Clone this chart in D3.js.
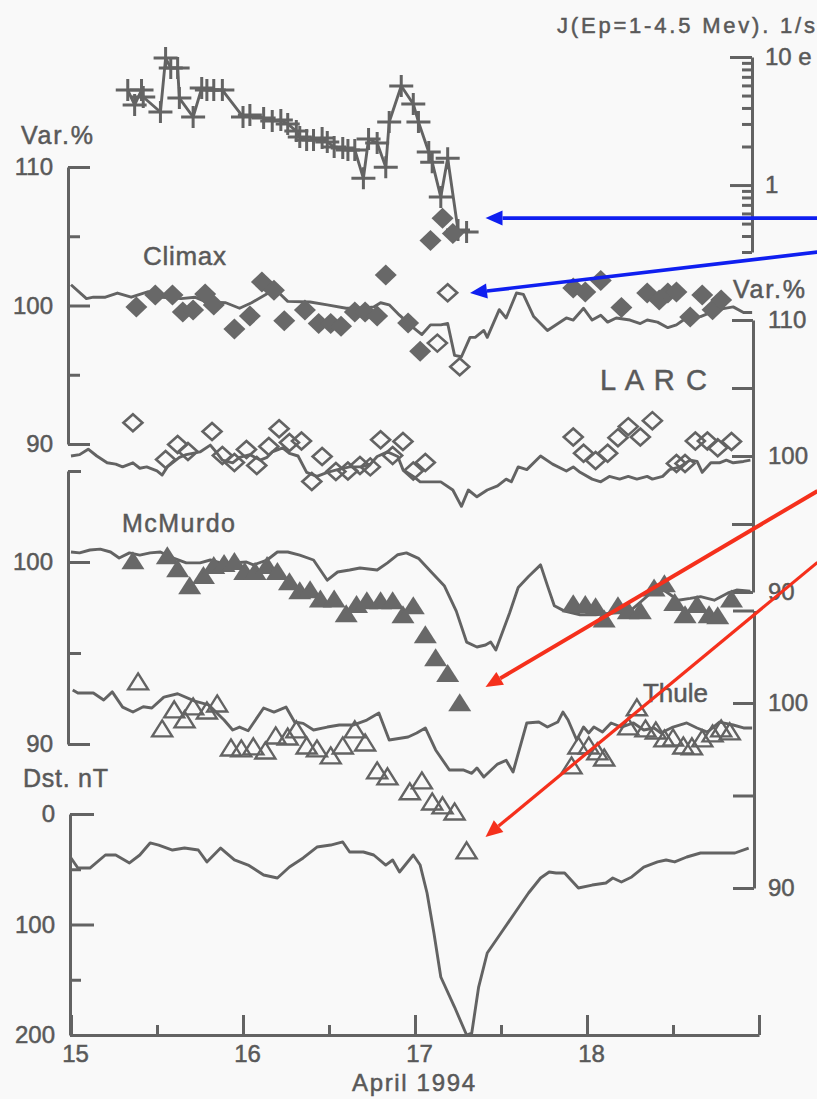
<!DOCTYPE html>
<html><head><meta charset="utf-8">
<script src="https://cdn.jsdelivr.net/npm/d3@7"></script>
<style>
body{margin:0;background:#f9f9f9}
svg{display:block}
text{font-family:"Liberation Sans",Arial,sans-serif;fill:#595959;stroke:#595959;stroke-width:0.5px}
</style>
</head><body>
<svg id="c" width="817" height="1099"></svg>
<script>
// ---------- DATA ----------
const dayTicks = [15,16,17,18,19];
const halfDayTicks = [15.5,16.5,17.5,18.5];
const jMajor = [1,10];
const jMinor = [0.3,0.4,0.5,0.6,0.7,0.8,0.9,2,3,4,5,6,7,8,9];
const climaxMajor = [90,100,110], climaxMinor = [95,105];
const larcMajor = [90,100,110], larcMinor = [95,105];
const mcmMajor = [90,100], mcmMinor = [95,105];
const thuleMajor = [90,100], thuleMinor = [95,105];
const dstMajor = [0,100,200], dstMinor = [50,150];

// proton flux J (Ep=1-4.5 MeV), [day, flux]
const jFlux = [[15.33,5.52],[15.37,4.22],[15.41,5.52],[15.42,4.87],[15.52,3.72],[15.55,9.8],[15.58,8.2],[15.62,8.2],[15.63,4.78],[15.71,3.40],[15.76,5.72],[15.79,5.52],[15.83,5.52],[15.88,5.52],[16.00,3.40],[16.04,3.52],[16.12,3.34],[16.17,3.16],[16.22,3.22],[16.26,3.0],[16.31,2.64],[16.33,2.37],[16.37,2.25],[16.41,2.25],[16.46,2.33],[16.49,2.17],[16.53,1.98],[16.58,1.95],[16.61,1.88],[16.65,1.88],[16.70,1.13],[16.73,2.29],[16.78,2.13],[16.83,1.38],[16.85,3.11],[16.92,5.94],[16.99,4.3],[17.02,3.11],[17.08,1.81],[17.10,1.51],[17.15,0.806],[17.19,1.62],[17.25,0.445],[17.30,0.429]];

// Climax neutron monitor, Var.%
const climaxLine = [[15.00,101.5],[15.09,100.5],[15.13,100.6],[15.20,100.6],[15.27,100.9],[15.35,100.6],[15.45,101.0],[15.53,100.6],[15.64,100.5],[15.72,100.6],[15.79,100.25],[15.90,100.2],[15.98,99.8],[16.05,100.2],[16.16,101.0],[16.21,100.9],[16.26,100.3],[16.39,100.25],[16.49,100.05],[16.60,99.8],[16.70,99.8],[16.76,99.9],[16.80,100.2],[16.85,100.05],[16.91,99.3],[16.99,98.4],[17.04,97.9],[17.09,98.6],[17.15,98.6],[17.19,98.7],[17.23,96.4],[17.27,96.3],[17.32,97.7],[17.35,97.7],[17.40,98.2],[17.42,97.7],[17.49,99.7],[17.53,99.1],[17.59,100.9],[17.63,100.8],[17.69,99.2],[17.77,98.2],[17.88,99.1],[17.92,98.95],[17.98,99.8],[18.03,98.95],[18.08,99.3],[18.12,98.8],[18.17,99.1],[18.25,98.95],[18.31,98.7],[18.35,98.95],[18.41,98.8],[18.47,98.4],[18.52,98.6],[18.56,98.95],[18.66,99.2],[18.76,99.7],[18.85,99.9],[18.91,99.5],[18.96,99.5]];
const climaxPoints = [[15.38,99.9],[15.49,100.76],[15.59,100.76],[15.65,99.53],[15.71,99.68],[15.78,100.83],[15.83,100.04],[15.95,98.3],[16.04,99.24],[16.11,101.7],[16.18,101.1],[16.24,98.9],[16.36,99.68],[16.44,98.7],[16.51,98.7],[16.57,98.5],[16.65,99.53],[16.71,99.53],[16.78,99.24],[16.83,102.2],[16.96,98.74],[17.03,96.7],[17.09,104.7],[17.16,106.3],[17.22,105.2],[17.92,101.26],[17.99,100.97],[18.08,101.8],[18.20,99.85],[18.35,100.9],[18.42,100.4],[18.47,100.9],[18.52,100.97],[18.60,99.17],[18.67,100.76],[18.73,99.7],[18.78,100.4]];

// LARC, Var.%
const larcLine = [[15.00,100.0],[15.05,100.1],[15.10,100.5],[15.15,100.0],[15.21,99.5],[15.26,99.4],[15.30,99.2],[15.36,99.5],[15.40,99.1],[15.44,99.2],[15.50,98.9],[15.53,98.6],[15.56,99.2],[15.63,99.9],[15.67,100.1],[15.75,100.3],[15.81,100.8],[15.85,100.2],[15.88,99.7],[15.94,99.5],[15.98,99.9],[16.04,100.1],[16.10,99.7],[16.14,99.9],[16.17,100.3],[16.23,100.6],[16.27,100.2],[16.32,100.0],[16.37,98.8],[16.43,98.5],[16.49,98.8],[16.55,99.0],[16.62,99.2],[16.69,99.2],[16.74,99.4],[16.78,99.96],[16.84,100.3],[16.90,99.96],[16.93,99.0],[16.99,98.5],[17.03,98.1],[17.15,98.1],[17.22,97.5],[17.27,96.3],[17.31,97.5],[17.36,97.0],[17.42,97.5],[17.48,97.8],[17.53,98.3],[17.56,98.1],[17.60,99.2],[17.65,99.0],[17.73,100.0],[17.80,99.4],[17.88,98.9],[17.92,99.2],[17.96,98.8],[18.03,98.3],[18.08,98.1],[18.13,98.5],[18.19,98.3],[18.24,98.5],[18.29,98.3],[18.35,98.5],[18.38,98.3],[18.44,98.5],[18.48,99.0],[18.54,99.2],[18.60,99.7],[18.64,99.6],[18.67,98.8],[18.72,99.5],[18.77,99.5],[18.81,99.7],[18.85,99.5],[18.91,99.6],[18.95,99.7]];
const larcPoints = [[15.36,102.45],[15.55,99.74],[15.62,100.84],[15.68,100.33],[15.82,101.8],[15.88,100.04],[15.95,99.52],[16.02,100.48],[16.08,99.3],[16.15,100.7],[16.21,102.0],[16.27,100.99],[16.34,101.1],[16.40,98.13],[16.46,99.96],[16.54,98.86],[16.61,98.9],[16.68,99.3],[16.74,99.2],[16.80,101.2],[16.87,100.04],[16.93,101.06],[16.99,98.9],[17.06,99.52],[17.13,108.3],[17.19,112.0],[17.26,106.56],[17.92,101.4],[17.98,100.2],[18.05,99.67],[18.12,100.2],[18.18,101.35],[18.24,102.16],[18.31,101.4],[18.38,102.6],[18.52,99.45],[18.57,99.45],[18.63,101.1],[18.70,101.1],[18.76,100.6],[18.84,101.06]];

// McMurdo, Var.%
const mcmLine = [[15.00,100.55],[15.05,100.5],[15.11,100.66],[15.17,100.71],[15.23,100.55],[15.28,100.22],[15.34,100.5],[15.40,100.38],[15.46,100.5],[15.52,100.55],[15.58,100.27],[15.67,99.95],[15.75,99.95],[15.81,100.11],[15.87,99.95],[15.94,99.95],[16.02,100.0],[16.06,99.84],[16.14,100.11],[16.20,100.55],[16.26,100.55],[16.33,100.38],[16.41,100.11],[16.49,99.0],[16.55,99.45],[16.62,99.56],[16.68,99.67],[16.78,99.56],[16.84,99.95],[16.90,100.4],[16.95,100.5],[17.02,100.2],[17.10,99.4],[17.17,98.7],[17.24,97.3],[17.30,95.6],[17.36,95.33],[17.41,95.44],[17.44,95.6],[17.47,95.16],[17.55,97.2],[17.60,98.6],[17.66,99.2],[17.73,99.84],[17.77,98.7],[17.81,97.6],[17.87,97.3],[17.96,97.1],[18.05,97.1],[18.15,97.2],[18.25,97.3],[18.36,98.2],[18.44,98.5],[18.53,97.9],[18.60,98.0],[18.66,98.1],[18.74,97.9],[18.82,98.3],[18.87,98.46],[18.95,98.4]];
const mcmPoints = [[15.36,100.0],[15.56,100.27],[15.62,99.56],[15.69,98.63],[15.77,99.18],[15.83,99.73],[15.89,99.84],[15.95,99.95],[16.01,99.4],[16.07,99.4],[16.14,99.73],[16.20,99.4],[16.27,98.85],[16.33,98.35],[16.39,98.4],[16.45,97.9],[16.53,97.9],[16.60,97.09],[16.66,97.6],[16.72,97.8],[16.80,97.8],[16.87,97.8],[16.93,97.03],[16.99,97.53],[17.06,95.93],[17.12,94.67],[17.19,93.8],[17.26,92.2],[17.92,97.64],[17.99,97.6],[18.05,97.47],[18.10,96.8],[18.18,97.53],[18.24,97.25],[18.31,97.25],[18.39,98.5],[18.45,98.74],[18.51,97.7],[18.57,97.03],[18.64,97.6],[18.71,97.03],[18.76,96.98],[18.84,97.9]];

// Thule, Var.%
const thuleLine = [[15.01,100.7],[15.04,100.54],[15.09,100.54],[15.13,100.54],[15.19,100.16],[15.24,100.6],[15.30,99.78],[15.36,99.51],[15.42,99.8],[15.47,99.73],[15.54,100.32],[15.62,100.5],[15.72,100.1],[15.80,99.9],[15.89,99.08],[15.94,98.54],[15.98,98.7],[16.03,98.5],[16.12,99.73],[16.18,99.51],[16.25,99.78],[16.30,98.97],[16.35,98.9],[16.41,98.54],[16.49,98.7],[16.56,98.81],[16.64,98.81],[16.72,99.08],[16.79,99.46],[16.85,98.0],[16.96,98.16],[17.01,98.38],[17.06,98.65],[17.12,97.46],[17.20,96.38],[17.28,96.38],[17.33,96.2],[17.36,96.49],[17.40,96.0],[17.48,96.7],[17.53,96.9],[17.57,96.27],[17.65,98.92],[17.72,98.97],[17.77,98.7],[17.83,98.97],[17.86,99.51],[17.89,99.08],[17.94,98.0],[17.98,98.7],[18.01,98.38],[18.04,98.7],[18.09,98.43],[18.14,98.92],[18.20,98.7],[18.27,98.92],[18.33,98.54],[18.39,98.65],[18.43,98.38],[18.50,98.7],[18.58,98.92],[18.64,98.65],[18.70,98.43],[18.77,98.97],[18.85,98.81],[18.91,98.65],[18.96,98.65]];
const thulePoints = [[15.39,101.08],[15.53,98.54],[15.60,99.57],[15.66,99.03],[15.71,99.73],[15.79,99.51],[15.85,99.89],[15.93,97.51],[15.99,97.46],[16.06,97.57],[16.13,97.35],[16.19,98.16],[16.26,98.1],[16.31,98.49],[16.37,97.62],[16.43,97.46],[16.51,97.08],[16.58,97.62],[16.65,98.49],[16.71,97.78],[16.78,96.27],[16.84,95.95],[16.97,95.14],[17.04,95.73],[17.10,94.59],[17.16,94.38],[17.23,94.05],[17.30,91.95],[17.91,96.54],[17.95,97.62],[18.01,97.62],[18.06,97.3],[18.10,96.97],[18.24,98.65],[18.29,99.68],[18.34,98.54],[18.40,98.43],[18.45,98.0],[18.50,98.05],[18.56,97.62],[18.61,97.57],[18.67,98.0],[18.73,98.27],[18.78,98.54],[18.83,98.38]];

// Dst index, nT (magnitude, plotted downward)
const dstLine = [[15.00,39.8],[15.04,48.9],[15.11,48.9],[15.20,37.1],[15.26,37.1],[15.34,44.3],[15.40,37.1],[15.46,26.2],[15.51,28.1],[15.59,32.6],[15.66,30.8],[15.74,32.6],[15.79,43.4],[15.87,30.8],[15.95,41.6],[16.03,46.2],[16.12,55.2],[16.20,57.9],[16.27,48.0],[16.35,39.8],[16.43,29.9],[16.51,28.1],[16.58,25.3],[16.62,34.4],[16.70,34.4],[16.76,37.1],[16.83,46.2],[16.87,41.6],[16.91,52.5],[16.99,37.1],[17.03,46.2],[17.07,71.5],[17.11,107.7],[17.15,147.5],[17.23,174.7],[17.30,200],[17.33,198.2],[17.37,156.6],[17.42,125.8],[17.50,107.7],[17.58,89.6],[17.66,71.5],[17.73,57.9],[17.78,52.5],[17.82,53.4],[17.87,53.4],[17.95,67.0],[18.03,64.3],[18.11,62.4],[18.15,57.9],[18.20,61.5],[18.26,57.0],[18.33,48.0],[18.41,43.4],[18.46,41.6],[18.51,43.4],[18.58,38.9],[18.66,35.3],[18.76,35.3],[18.86,35.3],[18.94,30.8]];

// annotation arrows: [startDay, startValue, tipDay, tipValue] in the named panel's units
const blueArrowJ = [19.34, 0.552, 17.41, 0.552];
const blueArrowClimax = [19.34, 103.86, 17.32, 100.9];
const redArrowMcm = [19.34, 103.9, 17.41, 93.13];
const redArrowThule = [19.34, 107.6, 17.41, 92.76];

// ---------- DRAW ----------
const svg = d3.select("#c");
svg.append("rect").attr("width",817).attr("height",1099).attr("fill","#f9f9f9");
const INK = "#636363";
const x = d3.scaleLinear().domain([15,19]).range([71,759]);
const yJ = d3.scaleLog().domain([0.3,10]).range([252,57]);
const yClimax = d3.scaleLinear().domain([90,110]).range([444,167]);
const yLarc = d3.scaleLinear().domain([90,110]).range([592,320]);
const yMcm = d3.scaleLinear().domain([90,105]).range([744,471]);
const yThule = d3.scaleLinear().domain([90,105]).range([888,610.5]);
const yDst = d3.scaleLinear().domain([0,200]).range([814,1035]);

function styleAxis(g){
  g.attr("font-size",null).attr("font-family",null);
  g.selectAll("path.domain").attr("stroke",INK).attr("stroke-width",3);
  g.selectAll(".tick line").attr("stroke",INK).attr("stroke-width",3);
  g.selectAll(".tick text").attr("fill","#595959").style("font-size","24px");
}
function vAxis(scale, xpos, labelsLeft, major, minor, fmt, majLen, minLen, pad){
  const mk = labelsLeft ? d3.axisLeft : d3.axisRight;
  const gmin = svg.append("g").attr("transform",`translate(${xpos},0)`)
    .call(mk(scale).tickValues(minor).tickSizeInner(-minLen).tickSizeOuter(0).tickFormat(""));
  gmin.select("path.domain").remove();
  styleAxis(gmin);
  const g = svg.append("g").attr("transform",`translate(${xpos},0)`)
    .call(mk(scale).tickValues(major).tickSizeInner(-majLen).tickSizeOuter(0).tickPadding(pad).tickFormat(fmt));
  styleAxis(g);
  return g;
}
// left axes
vAxis(yClimax, 68, true, climaxMajor, climaxMinor, d3.format("d"), 22, 12, 15);
vAxis(yMcm, 68, true, mcmMajor, mcmMinor, d3.format("d"), 22, 13, 15);
vAxis(yDst, 70, true, dstMajor, dstMinor, d3.format("d"), 24, 11, 15);
// right axes
vAxis(yLarc, 753, false, larcMajor, larcMinor, d3.format("d"), 21, 21, 15);
vAxis(yThule, 754, false, thuleMajor, thuleMinor, d3.format("d"), 21, 21, 14);
vAxis(yJ, 752, false, jMajor, jMinor, d => d===10 ? "10 e" : "1", 22, 10, 13);

// bottom axis
const gxMin = svg.append("g").attr("transform","translate(0,1035)")
  .call(d3.axisBottom(x).tickValues(halfDayTicks).tickSizeInner(-10).tickSizeOuter(0).tickFormat(""));
gxMin.select("path.domain").remove(); styleAxis(gxMin);
const gx = svg.append("g").attr("transform","translate(0,1035)")
  .call(d3.axisBottom(x).tickValues(dayTicks).tickSizeInner(-20).tickSizeOuter(0).tickPadding(10).tickFormat(d => d===19 ? "" : d));
styleAxis(gx);
gx.selectAll(".tick text").attr("dx","4");

// lines
const lineOf = ys => d3.line().x(d => x(d[0])).y(d => ys(d[1]));
const lineG = svg.append("g").attr("fill","none").attr("stroke",INK).attr("stroke-width",2.9).attr("stroke-linejoin","round");
lineG.append("path").attr("d", lineOf(yJ)(jFlux));
lineG.append("path").attr("d", lineOf(yClimax)(climaxLine));
lineG.append("path").attr("d", lineOf(yLarc)(larcLine));
lineG.append("path").attr("d", lineOf(yMcm)(mcmLine));
lineG.append("path").attr("d", lineOf(yThule)(thuleLine));
lineG.append("path").attr("d", lineOf(yDst)(dstLine));

// markers
const plus = (cx,cy) => `M${cx-12},${cy}H${cx+12}M${cx},${cy-11}V${cy+11}`;
const diamond = (cx,cy,w,h) => `M${cx},${cy-h}L${cx+w},${cy}L${cx},${cy+h}L${cx-w},${cy}Z`;
const tri = (cx,cy,w,h) => `M${cx},${cy-h*0.6}L${cx+w/2},${cy+h*0.4}L${cx-w/2},${cy+h*0.4}Z`;

svg.append("g").selectAll("path").data(jFlux).join("path")
  .attr("d", d => plus(x(d[0]), yJ(d[1]))).attr("stroke",INK).attr("stroke-width",3).attr("fill","none");
svg.append("g").selectAll("path").data(climaxPoints).join("path")
  .attr("d", d => diamond(x(d[0]), yClimax(d[1]), 11, 10.5)).attr("fill","#686868");
svg.append("g").selectAll("path").data(larcPoints).join("path")
  .attr("d", d => diamond(x(d[0]), yLarc(d[1]), 9.5, 8.5)).attr("fill","none").attr("stroke",INK).attr("stroke-width",2.6);
svg.append("g").selectAll("path").data(mcmPoints).join("path")
  .attr("d", d => tri(x(d[0]), yMcm(d[1]), 23, 18)).attr("fill","#686868");
svg.append("g").selectAll("path").data(thulePoints).join("path")
  .attr("d", d => tri(x(d[0]), yThule(d[1]), 20, 16)).attr("fill","none").attr("stroke",INK).attr("stroke-width",2.4).attr("stroke-linejoin","miter");

// texts
function label(txt, tx, ty, size, len){
  const t = svg.append("text").attr("x",tx).attr("y",ty).style("font-size",size+"px").text(txt);
  if(len) t.attr("textLength",len).attr("lengthAdjust","spacing");
  return t;
}
label("Var.%", 21, 144, 25, 72);
label("Climax", 143, 265, 26, 83);
label("L A R C", 600, 390, 29, 107);
label("McMurdo", 122, 532, 25, 113);
label("Thule", 643, 702, 26, 65);
label("Dst. nT", 23, 787, 25, 85);
label("Var.%", 733, 298, 25, 72);
label("J(Ep=1-4.5 Mev). 1/s", 557, 33, 22, 258);
label("April 1994", 352, 1091, 24, 123);

// arrows
function arrow(a, ys, color, w){
  const x1 = x(a[0]), y1 = ys(a[1]), x2 = x(a[2]), y2 = ys(a[3]);
  const ang = Math.atan2(y2-y1, x2-x1), L = 17, H = 7.5;
  const bx = x2 - L*Math.cos(ang), by = y2 - L*Math.sin(ang);
  svg.append("line").attr("x1",x1).attr("y1",y1).attr("x2",bx).attr("y2",by)
    .attr("stroke",color).attr("stroke-width",w);
  const px = -Math.sin(ang)*H, py = Math.cos(ang)*H;
  svg.append("path").attr("d",`M${x2},${y2}L${bx+px},${by+py}L${bx-px},${by-py}Z`).attr("fill",color);
}
arrow(blueArrowJ, yJ, "#0f1ff0", 3.6);
arrow(blueArrowClimax, yClimax, "#0f1ff0", 3.6);
arrow(redArrowMcm, yMcm, "#f5301c", 4);
arrow(redArrowThule, yThule, "#f5301c", 3.2);
</script>
</body></html>
